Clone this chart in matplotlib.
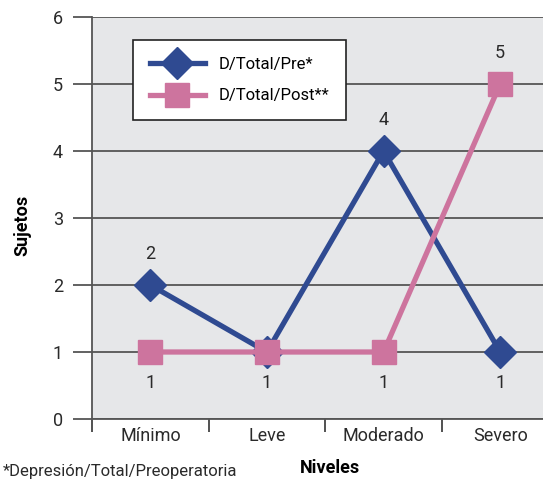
import matplotlib.pyplot as plt
import numpy as np

niveles = ["Mínimo", "Leve", "Moderado", "Severo"]
pre = [2, 1, 4, 1]
post = [1, 1, 1, 5]

# which labels go above / below each series' markers
pre_labels = [(0, "above"), (2, "above"), (3, "below")]
post_labels = [(0, "below"), (1, "below"), (2, "below"), (3, "above")]

BLUE = "#2f4a91"
PINK = "#cd749e"
BG = "#e6e7e9"
TXT = "#2a2a2a"

plt.rcParams["font.family"] = ["Roboto", "DejaVu Sans"]

fig = plt.figure(figsize=(5.43, 4.80), dpi=100)
ax = fig.add_axes([92 / 543, 61 / 480, 466.5 / 543, 402 / 480])
ax.set_facecolor(BG)

x = np.arange(len(niveles))
ax.plot(x, pre, color=BLUE, lw=3.8, marker="D", ms=16, label="D/Total/Pre*", zorder=3)
ax.plot(x, post, color=PINK, lw=3.8, marker="s", ms=17, label="D/Total/Post**", zorder=4)

for i, pos in pre_labels:
    off = 0.47 if pos == "above" else -0.47
    ax.text(x[i], pre[i] + off, str(pre[i]), ha="center", va="center", fontsize=13, color=TXT)
for i, pos in post_labels:
    off = 0.47 if pos == "above" else -0.47
    ax.text(x[i], post[i] + off, str(post[i]), ha="center", va="center", fontsize=13, color=TXT)

ax.set_xlim(-0.5, 3.5)
ax.set_ylim(0, 6)
ax.set_yticks(range(0, 7))
ax.yaxis.grid(True, color="#555555", lw=1.3)
ax.set_axisbelow(True)

ax.set_xticks(x)
ax.set_xticklabels(niveles)
ax.set_xticks(np.arange(-0.5, 3.6, 1), minor=True)
ax.tick_params(axis="x", which="major", length=0, pad=6, labelsize=13, labelcolor=TXT)
ax.tick_params(axis="x", which="minor", length=9, width=1.2, color="#333333")
ax.tick_params(axis="y", length=14, width=1.3, color="#555555", pad=7, labelsize=13, labelcolor=TXT)

for s in ["top", "right"]:
    ax.spines[s].set_visible(False)
ax.spines["left"].set_color("#555555")
ax.spines["left"].set_linewidth(1.3)
ax.spines["bottom"].set_color("#555555")
ax.spines["bottom"].set_linewidth(1.3)

fig.text(22 / 543, 1 - 225 / 480, "Sujetos", rotation=90, ha="center", va="center", fontsize=13, fontweight="bold")
fig.text(330 / 543, 1 - 468 / 480, "Niveles", ha="center", va="center", fontsize=13, fontweight="bold")
fig.text(3 / 543, 1 / 480, "*Depresión/Total/Preoperatoria", ha="left", va="bottom", fontsize=12, color=TXT)

leg = ax.legend(loc="upper left", bbox_to_anchor=(41 / 466.5, 1 - 23 / 402), frameon=True, fancybox=False,
                fontsize=12, handlelength=3.3, borderpad=1.0, labelspacing=1.0, handletextpad=0.85,
                borderaxespad=0)
leg.get_frame().set_edgecolor("#222222")
leg.get_frame().set_linewidth(1.2)
leg.get_frame().set_alpha(1)

fig.savefig("out.png", dpi=100)
